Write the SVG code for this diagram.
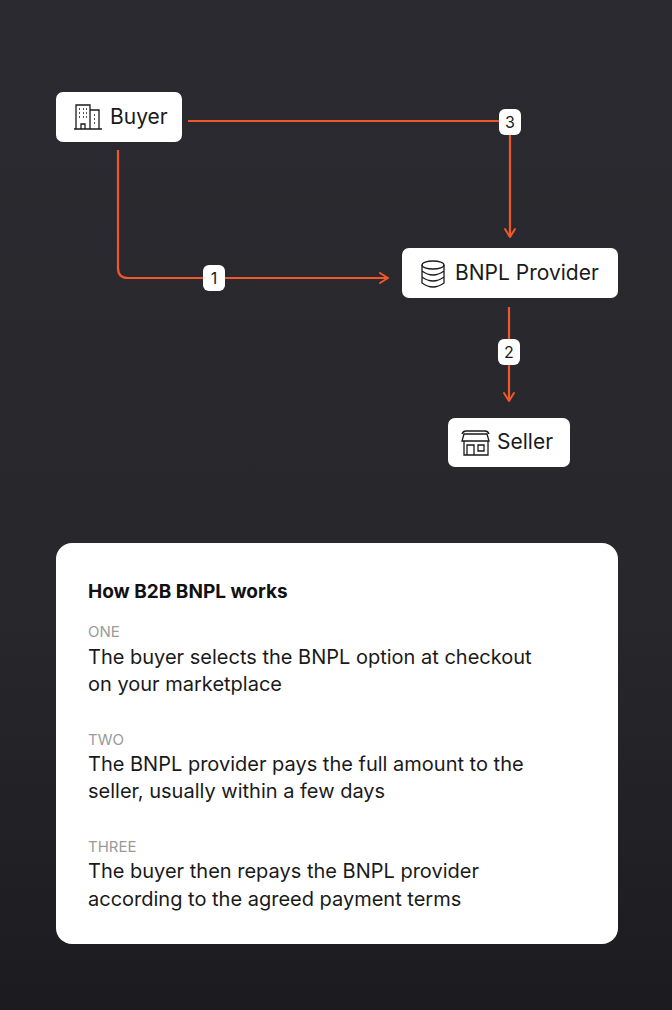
<svg xmlns="http://www.w3.org/2000/svg" width="672" height="1010" viewBox="0 0 672 1010">
<defs>
<linearGradient id="bg" x1="0" y1="0" x2="0" y2="1">
<stop offset="0" stop-color="#2b2a30"/><stop offset="0.6" stop-color="#28272c"/><stop offset="1" stop-color="#1c1b1f"/>
</linearGradient>
<marker id="arr" viewBox="0 0 12 12" refX="10" refY="6" markerWidth="12" markerHeight="12" markerUnits="userSpaceOnUse" orient="auto">
<path d="M2,1 L10,6 L2,11" fill="none" stroke="#f0572a" stroke-width="2" stroke-linecap="round" stroke-linejoin="round"/>
</marker>
<style>
.node{fill:#fff}
.lbl{font-family:Inter,"Noto Sans",sans-serif;font-size:21px;fill:#1a1a1a}
.ln{fill:none;stroke:#f0572a;stroke-width:2.2}
.badge{fill:#fff}
.bt{font-family:Inter,"Noto Sans",sans-serif;font-size:16px;fill:#1a1a1a;text-anchor:middle}
.ic{fill:none;stroke:#1a1a1a;stroke-width:1.3}
.h{font-family:Inter,"Noto Sans",sans-serif;font-size:19px;font-weight:700;fill:#111}
.k{font-family:Inter,"Noto Sans",sans-serif;font-size:15px;fill:#9a9a9a}
.t{font-family:Inter,"Noto Sans",sans-serif;font-size:20px;fill:#1a1a1a}
</style>
</defs>
<rect width="672" height="1010" fill="url(#bg)"/>
<g id="connectors">
<path class="ln" d="M188,121 H510 V237" marker-end="url(#arr)"/>
<path class="ln" d="M118,150 V268 Q118,278 128,278 H388" marker-end="url(#arr)"/>
<path class="ln" d="M509,307 V401" marker-end="url(#arr)"/>
<rect class="badge" x="499" y="109" width="22" height="26" rx="6"/><text class="bt" x="510" y="128">3</text>
<rect class="badge" x="203" y="265" width="22" height="26" rx="6"/><text class="bt" x="214" y="284">1</text>
<rect class="badge" x="498" y="339" width="22" height="26" rx="6"/><text class="bt" x="509" y="358">2</text>
</g>
<g id="buyer">
<rect class="node" x="56" y="92" width="126" height="50" rx="7"/>
<g class="ic"><path d="M74,129 H102 M76,129 V105 H90 V129 M90,110 H99 V129 M81,124 h4 v5 h-4z"/>
<path d="M79,109 h1 M83,109 h1 M86,109 h1 M79,113 h1 M83,113 h1 M86,113 h1 M79,117 h1 M83,117 h1 M86,117 h1 M94,115 h1 M94,119 h1 M94,123 h1"/></g>
<text class="lbl" x="110" y="124">Buyer</text>
</g>
<g id="bnpl">
<rect class="node" x="402" y="248" width="216" height="50" rx="7"/>
<g class="ic"><ellipse cx="433" cy="265" rx="11" ry="4"/><path d="M422,265 V283 Q433,291 444,283 V265 M422,271 Q433,279 444,271 M422,277 Q433,285 444,277"/></g>
<text class="lbl" x="455" y="280">BNPL Provider</text>
</g>
<g id="seller">
<rect class="node" x="448" y="418" width="122" height="49" rx="7"/>
<g class="ic"><path d="M464,434 H487 L489,441 H462 Z M464,441 V455 H488 V441 M467,455 V445 H474 V455 M478,445 H484 V451 H478 Z M462,434 q1,-3 4,-3 H485 q3,0 4,3"/></g>
<text class="lbl" x="497" y="449">Seller</text>
</g>
<g id="card">
<rect class="node" x="56" y="543" width="562" height="401" rx="16"/>
<text class="h" x="88" y="598">How B2B BNPL works</text>
<text class="k" x="88" y="637">ONE</text>
<text class="t" x="88" y="664">The buyer selects the BNPL option at checkout</text>
<text class="t" x="88" y="691">on your marketplace</text>
<text class="k" x="88" y="745">TWO</text>
<text class="t" x="88" y="771">The BNPL provider pays the full amount to the</text>
<text class="t" x="88" y="798">seller, usually within a few days</text>
<text class="k" x="88" y="852">THREE</text>
<text class="t" x="88" y="878">The buyer then repays the BNPL provider</text>
<text class="t" x="88" y="906">according to the agreed payment terms</text>
</g>
</svg>
